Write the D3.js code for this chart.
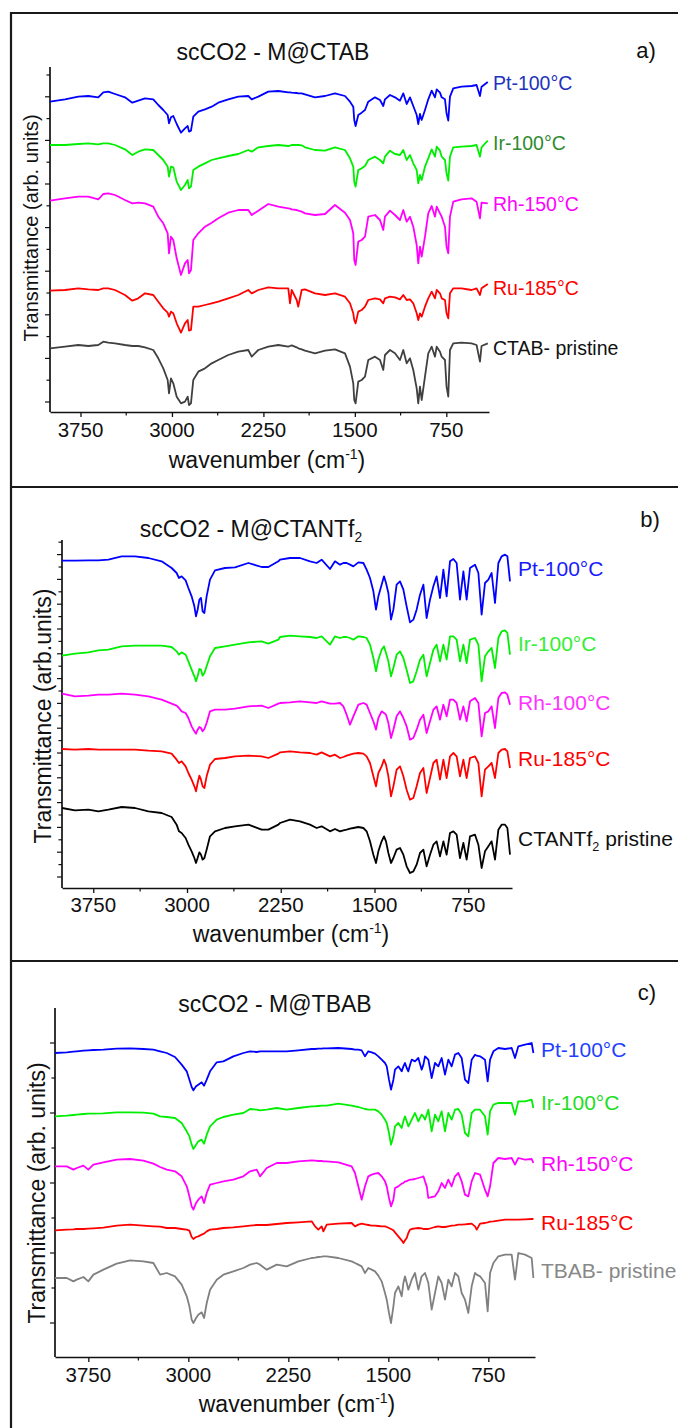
<!DOCTYPE html>
<html><head><meta charset="utf-8">
<script src="https://cdn.jsdelivr.net/npm/d3@7"></script>
<style>body{margin:0;background:#fff}svg text{font-family:"Liberation Sans",Arial,sans-serif}</style>
</head><body><svg id="c" width="678" height="1428"></svg>
<script>
// ---------- DATA ----------
const xTickLabels=[3750,3000,2250,1500,750];
const xMinorTicks=[3375,2625,1875,1125];

// Panel a (M@CTAB)
const wnA=[4000,3877,3768,3686,3604,3563,3522,3467,3385,3325,3276,3221,3153,3112,3071,3035,3024,3008,2989,2961,2926,2893,2871,2860,2844,2825,2784,2729,2674,2620,2538,2456,2374,2346,2292,
2210,2128,2046,2032,2018,1977,1964,1936,1909,1827,1745,1663,1581,1540,1513,1505,1494,1472,1444,1417,1390,1335,1294,1267,1253,1212,1171,1130,1103,1075,1048,1021,993,980,966,952,925,898,870,843,829,802,788,761,748,734,720,693,625,543,502,474,461,410];
const ptA=[931,938,946,948,944,959,961,954,944,928,934,941,938,921,906,891,866,884,888,864,838,851,858,841,844,886,901,908,916,928,938,946,948,938,946,
961,963,959,959,958,957,956,956,953,944,948,956,948,931,916,876,858,891,898,906,931,944,936,918,938,951,944,934,956,924,944,918,891,864,894,876,906,938,964,944,968,958,944,938,896,874,946,971,976,978,981,948,976,990];
const irA=[801,801,804,806,803,806,806,801,788,771,781,788,786,771,756,736,706,736,734,691,666,681,696,671,676,726,736,746,756,761,768,774,786,781,794,
798,801,798,799,801,801,801,800,794,786,784,794,786,761,736,691,676,726,731,738,756,766,756,746,766,784,774,771,786,756,771,746,726,686,711,696,736,761,788,766,796,784,766,756,716,694,766,794,796,798,801,766,794,814];
const rhA=[634,641,646,646,638,654,656,651,636,626,628,626,616,586,566,536,476,526,516,461,411,446,456,416,426,516,536,556,568,581,598,606,606,591,604,
624,616,611,610,608,606,604,601,596,591,594,621,598,576,536,456,441,511,516,526,586,591,576,546,586,604,591,576,606,571,586,556,501,446,496,466,526,596,618,586,616,596,586,556,496,476,586,631,638,641,631,581,628,626];
const ruA=[364,366,371,368,366,371,371,366,351,334,341,356,351,331,311,298,286,301,296,266,238,266,276,244,246,316,316,321,326,331,341,351,366,356,366,
374,371,371,326,366,336,316,366,368,356,351,356,346,326,296,276,266,301,306,316,336,341,338,326,341,346,344,338,351,336,338,326,296,276,296,286,316,341,361,341,366,356,341,336,296,281,356,371,371,366,371,351,371,384];
const ctabA=[191,196,201,198,201,211,208,206,201,198,198,194,186,161,131,96,56,101,86,46,26,31,46,21,26,96,121,131,146,156,171,181,186,166,186,
196,201,196,198,200,194,191,188,184,176,184,188,176,136,86,36,26,91,96,106,156,166,156,126,171,186,176,156,186,146,161,126,71,26,76,36,106,176,196,166,196,181,166,156,76,46,186,206,208,206,201,151,198,206];

// Panel b (M@CTANTf2)
const wnB=[4000,3896,3789,3709,3629,3523,3416,3309,3203,3123,3083,3064,3043,3011,2989,2963,2941,2928,2915,2901,2888,2875,2861,2843,2816,2776,2696,2616,2509,2403,2349,2269,
2256,2176,2096,2016,1963,1923,1856,1816,1776,1749,1723,1696,1669,1629,1589,1563,1536,1509,1488,1469,1443,1424,1408,1389,1368,1349,1323,1296,1269,1243,1216,1189,1163,1136,1109,1083,1056,1029,1003,976,949,923,896,869,843,816,789,763,736,696,669,643,616,589,563,536,509,483,456,437,416];
const ptB=[982,982,983,983,985,995,995,990,980,960,945,930,935,923,900,875,845,815,835,865,870,830,825,875,925,953,960,962,975,963,963,980,
985,990,990,980,975,985,957,980,970,975,975,970,965,977,975,955,930,890,835,875,910,935,915,885,805,835,910,920,895,845,797,805,835,880,910,810,865,905,935,870,955,875,980,987,975,865,950,865,960,970,945,820,915,925,945,855,975,995,1000,995,920];
const irB=[697,703,707,713,715,725,727,727,727,723,710,700,707,700,680,655,635,620,635,657,655,637,645,665,695,720,725,730,737,740,733,745,
753,757,755,753,750,755,730,755,750,753,753,750,745,755,753,750,730,690,650,685,715,725,705,680,635,660,700,710,690,655,615,620,650,685,700,635,675,715,730,680,730,685,755,755,745,680,730,675,745,750,730,620,695,710,720,660,750,770,773,765,700];
const rhB=[583,575,577,580,580,583,580,575,565,553,547,540,530,525,510,485,470,463,475,483,480,470,477,495,530,535,535,538,545,547,540,553,
555,557,560,557,555,560,553,553,555,545,520,490,515,550,555,550,525,500,475,510,530,525,520,495,450,475,515,530,510,485,445,450,475,505,520,465,500,535,545,505,550,515,565,565,555,505,545,500,560,570,555,455,525,530,545,480,570,585,587,580,550];
const ruB=[417,415,417,415,415,415,415,412,410,403,385,375,380,365,345,325,305,290,315,337,325,305,300,335,370,387,390,395,397,395,390,403,
407,410,407,405,400,407,395,400,390,393,397,400,403,405,403,395,375,335,305,345,365,385,370,335,275,305,355,365,335,295,265,270,305,345,360,285,330,375,385,325,385,330,395,405,395,335,385,330,390,395,375,275,355,365,375,330,405,415,417,410,360];
const ctantB=[240,233,235,230,235,243,240,230,225,213,190,170,165,150,130,110,90,75,90,107,100,85,90,115,155,170,180,185,190,175,175,190,
195,205,200,190,180,185,170,177,170,173,175,178,180,183,180,170,140,100,75,110,140,155,140,105,75,90,115,120,100,65,45,50,70,105,115,65,100,130,140,95,140,100,165,170,160,90,135,85,155,160,130,60,110,125,140,85,175,190,190,180,100];

// Panel c (M@TBAB)
const wnC=[4000,3912,3862,3837,3787,3750,3712,3637,3537,3437,3337,3262,3212,3162,3100,3050,3012,2992,2975,2962,2942,2925,2900,2882,2862,2837,2787,2737,2662,2587,2537,2487,2462,2412,2337,
2262,2175,2075,2050,2025,2000,1987,1962,1875,1775,1750,1725,1700,1675,1650,1625,1600,1575,1550,1525,1512,1495,1480,1462,1450,1425,1400,1387,1375,1362,1350,1337,1325,1300,1275,1250,1237,1225,1212,1200,1175,1150,1125,1100,1075,1050,1025,1000,975,950,925,900,875,850,837,812,775,755,737,712,675,625,575,550,525,475,425,412];
const ptC=[912,914,916,917,919,920,921,922,925,926,924,922,917,912,900,877,857,832,810,800,812,817,824,814,832,857,884,887,902,912,917,915,917,917,917,
917,920,924,924,925,925,926,926,927,924,922,922,920,902,917,914,910,902,892,882,872,832,802,832,862,872,857,872,882,867,857,877,892,887,897,862,877,902,897,892,837,882,872,897,847,892,872,907,912,897,832,822,892,907,904,902,892,827,892,917,927,924,927,897,932,937,942,912];
const irC=[722,724,726,727,729,730,730,731,734,734,733,730,722,720,717,702,677,662,637,624,637,647,652,640,667,692,712,720,727,732,744,742,740,742,747,
742,747,752,752,753,754,754,754,760,754,752,750,747,744,742,742,742,737,727,712,702,672,637,662,692,702,687,707,722,707,692,702,712,732,707,727,722,712,727,742,677,727,707,737,677,732,712,742,744,727,672,662,732,742,742,742,722,667,737,757,762,762,762,727,767,767,772,747];
const rhC=[572,572,562,567,574,562,577,584,592,594,589,580,570,562,557,542,512,482,452,442,462,472,482,462,492,517,522,527,532,542,557,562,542,567,582,
582,587,590,589,588,588,587,587,584,572,552,512,472,512,542,547,550,552,542,527,512,477,452,472,507,512,520,522,527,527,530,532,532,534,537,540,542,527,512,477,480,482,497,522,507,532,512,542,552,527,487,482,527,552,550,547,502,482,512,582,597,594,597,577,597,592,594,582];
const ruC=[380,382,383,384,384,385,386,388,394,397,394,392,391,387,387,384,382,379,360,354,360,362,367,370,377,382,384,387,389,392,394,396,396,396,399,
402,404,407,392,382,392,377,397,400,402,392,397,400,398,396,394,394,393,392,392,390,387,384,380,374,362,350,342,350,357,372,382,384,386,387,386,384,384,384,384,387,390,392,390,390,392,394,395,397,397,398,399,400,392,382,400,402,404,406,407,409,412,412,412,412,413,414,414];
const tbabC=[237,237,227,232,240,227,247,262,280,290,287,282,247,252,242,217,182,152,112,102,117,127,134,117,162,202,232,247,257,267,277,282,277,262,277,
272,287,297,298,300,301,302,302,297,287,282,277,272,252,267,262,257,244,227,192,172,132,102,152,192,212,182,222,242,222,202,217,232,252,202,242,247,252,237,222,142,192,242,222,172,232,212,252,242,192,172,132,212,252,247,242,222,137,252,282,302,307,307,232,312,307,297,237];

const labelsA=["Pt-100°C","Ir-100°C","Rh-150°C","Ru-185°C","CTAB- pristine"];
const labelsB=["Pt-100°C","Ir-100°C","Rh-100°C","Ru-185°C","CTANTf_2 pristine"];
const labelsC=["Pt-100°C","Ir-100°C","Rh-150°C","Ru-185°C","TBAB- pristine"];

// ---------- LAYOUT / STYLE ----------
const panels=[
 {wn:wnA, series:[ptA,irA,rhA,ruA,ctabA], labels:labelsA,
  x0:50,x1:489,yb:412,yt:67,ymax:1035, yTick0:30,yTickStep:65.4,
  lineColors:["#0000ff","#00ee00","#ff00ff","#ff0000","#404040"],
  labelColors:["#2233bb","#2e8b2e","#ff00ff","#ff0000","#111"],
  labelX:493,labelY:[90,150,211,295,355],labelSize:19.5,
  title:"scCO2 - M@CTAB",titleX:273,titleY:60,tag:"a)",tagX:646,tagY:58,
  tickY:437,axTitleX:267,axTitleY:468,yLab:"Transmittance (arb. units)",yLabX:31,yLabY:228,yLabSize:20},
 {wn:wnB, series:[ptB,irB,rhB,ruB,ctantB], labels:labelsB,
  x0:62,x1:512,yb:888,yt:540,ymax:1044, yTick0:33,yTickStep:37.2,
  lineColors:["#0000ff","#00ee00","#ff00ff","#ff0000","#000000"],
  labelColors:["#1a1aff","#33ee33","#ff33ff","#ff0000","#111"],
  labelX:518,labelY:[576,651,710,766,846],labelSize:21,
  title:"scCO2 - M@CTANTf_2",titleX:251,titleY:537,tag:"b)",tagX:650,tagY:527,
  tickY:912,axTitleX:291,axTitleY:942,yLab:"Transmittance (arb.units)",yLabX:43,yLabY:716,yLabSize:23},
 {wn:wnC, series:[ptC,irC,rhC,ruC,tbabC], labels:labelsC,
  x0:55,x1:535,yb:1357,yt:1008,ymax:1047, yTick0:102,yTickStep:105,
  lineColors:["#0000ff","#00ee00","#ff00ff","#ff0000","#808080"],
  labelColors:["#1f3fff","#22dd22","#ff00ff","#ff0000","#888"],
  labelX:541,labelY:[1057,1110,1171,1230,1278],labelSize:21,
  title:"scCO2 - M@TBAB",titleX:275,titleY:1012,tag:"c)",tagX:647,tagY:1000,
  tickY:1382,axTitleX:297,axTitleY:1412,yLab:"Transmittance (arb. units)",yLabX:37,yLabY:1193,yLabSize:23}
];

const svg=d3.select("#c");

// panel frames
const frame=svg.append("g").attr("stroke","#1a1a1a").attr("stroke-width",2.2);
[13,487,961].forEach(y=>frame.append("line").attr("x1",11).attr("x2",678).attr("y1",y).attr("y2",y));
frame.append("line").attr("x1",11).attr("x2",11).attr("y1",12).attr("y2",1428);

function rich(sel,str){ // "_2" -> subscript 2
  const parts=str.split("_");
  sel.append("tspan").text(parts[0]);
  for(let i=1;i<parts.length;i++){
    sel.append("tspan").attr("dy",5).attr("font-size","0.6em").text(parts[i][0]);
    sel.append("tspan").attr("dy",-5).text(parts[i].slice(1));
  }
}

panels.forEach(p=>{
  const g=svg.append("g");
  const x=d3.scaleLinear().domain([4000,400]).range([p.x0,p.x1]);
  const y=d3.scaleLinear().domain([0,p.ymax]).range([p.yb,p.yt]);

  // x axis
  const xa=g.append("g").attr("transform",`translate(0,${p.yb})`)
    .call(d3.axisBottom(x).tickValues(xTickLabels).tickSize(5).tickSizeOuter(0).tickPadding(6));
  xa.select(".domain").attr("stroke","#111").attr("stroke-width",1.7);
  xa.selectAll(".tick line").attr("stroke","#111").attr("stroke-width",1.3);
  xa.selectAll(".tick text").remove();
  g.append("g").selectAll("line").data(xMinorTicks).join("line")
    .attr("x1",d=>x(d)).attr("x2",d=>x(d)).attr("y1",p.yb).attr("y2",p.yb+3.5)
    .attr("stroke","#111").attr("stroke-width",1.2);
  g.append("g").selectAll("text").data(xTickLabels).join("text")
    .attr("x",d=>x(d)).attr("y",p.tickY).attr("text-anchor","middle")
    .attr("font-size",20.5).attr("fill","#111").text(d=>d);

  // y axis
  const yt=d3.range(p.yTick0,p.ymax-5,p.yTickStep);
  g.append("line").attr("x1",p.x0).attr("x2",p.x0).attr("y1",p.yb).attr("y2",p.yt)
    .attr("stroke","#111").attr("stroke-width",1.7);
  g.append("g").selectAll("line").data(yt).join("line")
    .attr("x1",p.x0).attr("x2",(d,i)=>p.x0-(i%2===0?5:3.5))
    .attr("y1",d=>y(d)).attr("y2",d=>y(d)).attr("stroke","#111").attr("stroke-width",1.2);

  // curves
  const line=d3.line().x((d,i)=>x(p.wn[i])).y(d=>y(d));
  p.series.forEach((s,k)=>{
    g.append("path").datum(s).attr("d",line).attr("fill","none")
      .attr("stroke",p.lineColors[k]).attr("stroke-width",1.8).attr("stroke-linejoin","round");
  });

  // series labels
  p.labels.forEach((l,k)=>{
    const t=g.append("text").attr("x",p.labelX).attr("y",p.labelY[k])
      .attr("font-size",p.labelSize).attr("fill",p.labelColors[k]);
    rich(t,l);
  });

  // title and tag
  const tt=g.append("text").attr("x",p.titleX).attr("y",p.titleY).attr("text-anchor","middle")
    .attr("font-size",23).attr("fill","#111");
  rich(tt,p.title);
  g.append("text").attr("x",p.tagX).attr("y",p.tagY).attr("text-anchor","middle")
    .attr("font-size",22).attr("fill","#111").text(p.tag);

  // axis titles
  const at=g.append("text").attr("x",p.axTitleX).attr("y",p.axTitleY).attr("text-anchor","middle")
    .attr("font-size",23).attr("fill","#111");
  at.append("tspan").text("wavenumber (cm");
  at.append("tspan").attr("dy",-9).attr("font-size",14).text("-1");
  at.append("tspan").attr("dy",9).text(")");
  g.append("text").attr("transform",`translate(${p.yLabX},${p.yLabY}) rotate(-90)`)
    .attr("text-anchor","middle").attr("dominant-baseline","central")
    .attr("font-size",p.yLabSize).attr("fill","#111").text(p.yLab);
});
</script></body></html>
